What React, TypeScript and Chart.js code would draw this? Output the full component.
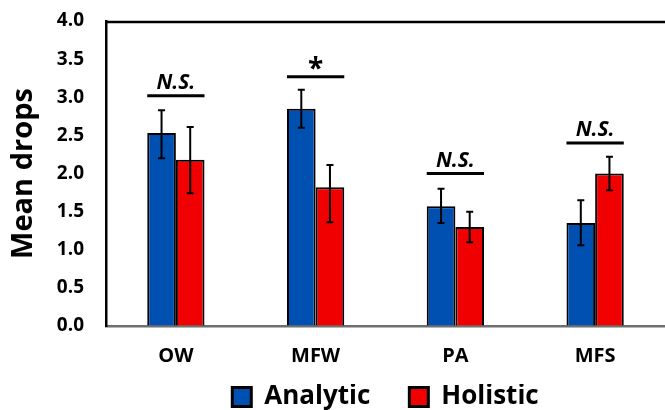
import React, { useEffect, useRef } from "react";
import { Chart, registerables } from "chart.js";

Chart.register(...registerables);

const categories = ["OW", "MFW", "PA", "MFS"];
const analyticMeans = [2.53, 2.85, 1.57, 1.35];
const analyticErrHigh = [2.83, 3.1, 1.8, 1.65];
const analyticErrLow = [2.2, 2.6, 1.35, 1.06];
const holisticMeans = [2.18, 1.82, 1.3, 2.0];
const holisticErrHigh = [2.61, 2.11, 1.5, 2.22];
const holisticErrLow = [1.74, 1.36, 1.1, 1.78];
const sigLabels = ["N.S.", "*", "N.S.", "N.S."];
const sigLevels = [3.02, 3.27, 2.0, 2.4];
const yTicks = [0, 0.5, 1, 1.5, 2, 2.5, 3, 3.5, 4];

const FONT = "'Open Sans', 'Liberation Sans', sans-serif";

const errLows = [analyticErrLow, holisticErrLow];
const errHighs = [analyticErrHigh, holisticErrHigh];

const overlayPlugin = {
  id: "overlay",
  afterDatasetsDraw(chart: any) {
    const ctx = chart.ctx;
    const y = chart.scales.y;
    const area = chart.chartArea;
    ctx.save();
    // top frame line
    ctx.strokeStyle = "#000";
    ctx.lineWidth = 2.5;
    ctx.beginPath();
    ctx.moveTo(area.left, area.top + 1);
    ctx.lineTo(chart.width, area.top + 1);
    ctx.stroke();
    // error bars
    ctx.lineWidth = 2;
    [0, 1].forEach((di) => {
      const meta = chart.getDatasetMeta(di);
      meta.data.forEach((bar: any, i: number) => {
        const x = bar.x;
        const yh = y.getPixelForValue(errHighs[di][i]);
        const yl = y.getPixelForValue(errLows[di][i]);
        ctx.beginPath();
        ctx.moveTo(x, yh);
        ctx.lineTo(x, yl);
        ctx.moveTo(x - 3.5, yh);
        ctx.lineTo(x + 3.5, yh);
        ctx.moveTo(x - 3.5, yl);
        ctx.lineTo(x + 3.5, yl);
        ctx.stroke();
      });
    });
    // significance annotations
    const m0 = chart.getDatasetMeta(0);
    const m1 = chart.getDatasetMeta(1);
    sigLabels.forEach((lab, i) => {
      const b0 = m0.data[i];
      const b1 = m1.data[i];
      const left = b0.x - b0.width / 2;
      const right = b1.x + b1.width / 2;
      const ly = y.getPixelForValue(sigLevels[i]);
      ctx.lineWidth = 3;
      ctx.beginPath();
      ctx.moveTo(left, ly);
      ctx.lineTo(right, ly);
      ctx.stroke();
      ctx.fillStyle = "#000";
      ctx.textAlign = "center";
      ctx.textBaseline = "alphabetic";
      if (lab === "*") {
        ctx.font = `bold 28px ${FONT}`;
        ctx.fillText(lab, (left + right) / 2, ly + 1);
      } else {
        ctx.font = `italic bold 21px ${FONT}`;
        ctx.fillText(lab, (left + right) / 2, ly - 7);
      }
    });
    ctx.restore();
  },
};

export default function App() {
  const ref = useRef<HTMLCanvasElement>(null);
  useEffect(() => {
    document.body.style.margin = "0";
    const chart = new Chart(ref.current!, {
      type: "bar",
      data: {
        labels: categories,
        datasets: [
          {
            label: "Analytic",
            data: analyticMeans,
            backgroundColor: "#0050B2",
            borderColor: "#000",
            borderWidth: 2,
            categoryPercentage: 0.41,
            barPercentage: 1.0,
          },
          {
            label: "Holistic",
            data: holisticMeans,
            backgroundColor: "#F00000",
            borderColor: "#000",
            borderWidth: 2,
            categoryPercentage: 0.41,
            barPercentage: 1.0,
          },
        ],
      },
      options: {
        animation: false,
        responsive: false,
        maintainAspectRatio: false,
        layout: { padding: { left: 6, right: 0, top: 21, bottom: 0 } },
        plugins: {
          tooltip: { enabled: false },
          legend: {
            position: "bottom",
            fullSize: false,
            maxHeight: 26,
            labels: {
              color: "#000",
              boxWidth: 19,
              boxHeight: 19,
              padding: 0,
              font: { family: FONT, size: 26, weight: "bold", lineHeight: 1.0 },
              generateLabels: (chart: any) =>
                chart.data.datasets.map((ds: any, i: number) => ({
                  text: i === 0 ? ds.label + "\u2003\u2002" : ds.label,
                  fillStyle: ds.backgroundColor,
                  strokeStyle: "#000",
                  lineWidth: 3,
                  hidden: false,
                  datasetIndex: i,
                  fontColor: "#000",
                })),
            },
          },
        },
        scales: {
          x: {
            afterFit: (s: any) => {
              s.height = 58;
            },
            grid: { display: false, drawTicks: false },
            border: { display: true, color: "#6f6f6f", width: 2.5 },
            ticks: {
              color: "#000",
              padding: 18,
              font: { family: FONT, size: 20, weight: "bold" },
            },
          },
          y: {
            min: 0,
            max: 4,
            afterFit: (s: any) => {
              s.width = 100;
            },
            afterBuildTicks: (s: any) => {
              s.ticks = yTicks.map((v) => ({ value: v }));
            },
            grid: {
              display: true,
              color: "rgba(0,0,0,0)",
              drawOnChartArea: false,
              drawTicks: true,
              tickLength: 22,
            },
            border: { display: true, color: "#000", width: 2.5 },
            title: {
              display: true,
              text: "Mean drops",
              color: "#000",
              font: { family: FONT, size: 29, weight: "bold" },
              padding: { top: 0, bottom: 0 },
            },
            ticks: {
              color: "#000",
              padding: 0,
              font: { family: FONT, size: 19, weight: "bold" },
              callback: (v: any) => Number(v).toFixed(1),
            },
          },
        },
      },
      plugins: [overlayPlugin],
    });
    return () => chart.destroy();
  }, []);
  return <canvas ref={ref} width={665} height={410} style={{ display: "block" }} />;
}
